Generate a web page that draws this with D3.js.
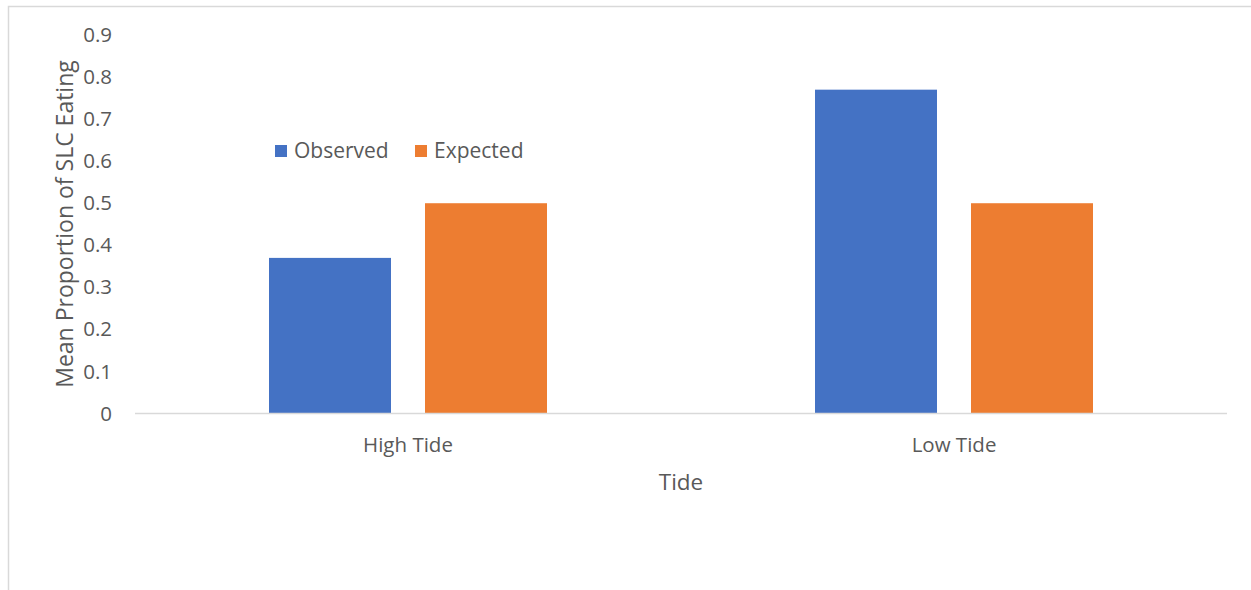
<!DOCTYPE html>
<html>
<head>
<meta charset="utf-8">
<script src="https://cdn.jsdelivr.net/npm/d3@7"></script>
<style>
  html, body { margin: 0; padding: 0; background: #fff; }
  svg { display: block; font-family: "Open Sans", sans-serif; }
</style>
</head>
<body>
<script>
// Mean proportion of SLC eating by tide, observed vs expected
const categories = ["High Tide", "Low Tide"];
const seriesNames = ["Observed", "Expected"];
const observed = [0.37, 0.77];
const expected = [0.5, 0.5];
const yTicks = [0, 0.1, 0.2, 0.3, 0.4, 0.5, 0.6, 0.7, 0.8, 0.9];
const colors = ["#4472C4", "#ED7D31"];

const W = 1251, H = 590;
const svg = d3.select("body").append("svg").attr("width", W).attr("height", H);

// chart frame
svg.append("path")
  .attr("d", `M8.5,${H} V6.5 H${W}`)
  .attr("fill", "none").attr("stroke", "#d9d9d9").attr("stroke-width", 1.5);

const plot = { left: 135, right: 1227, top: 35, bottom: 413.5 };

const x0 = d3.scaleBand().domain(categories).range([plot.left, plot.right]);
const y = d3.scaleLinear().domain([0, 0.9]).range([plot.bottom, plot.top]);

const barW = 122, gap = 34;
const x1 = d3.scaleOrdinal().domain(seriesNames)
  .range([-(barW + gap / 2), gap / 2]);

const values = [observed, expected];
const rows = [];
seriesNames.forEach((s, si) => categories.forEach((c, ci) =>
  rows.push({ s, c, v: values[si][ci], color: colors[si] })));

svg.append("g").selectAll("rect").data(rows).join("rect")
  .attr("x", d => x0(d.c) + x0.bandwidth() / 2 + x1(d.s))
  .attr("width", barW)
  .attr("y", d => y(d.v))
  .attr("height", d => y(0) - y(d.v))
  .attr("fill", d => d.color);

// baseline
svg.append("line")
  .attr("x1", plot.left).attr("x2", plot.right)
  .attr("y1", y(0)).attr("y2", y(0))
  .attr("stroke", "#d9d9d9").attr("stroke-width", 1.5);

// y axis labels
const yAxis = d3.axisLeft(y).tickValues(yTicks).tickSize(0).tickPadding(0)
  .tickFormat(d => d3.format("")(+d.toFixed(1)));
const yg = svg.append("g").attr("transform", `translate(112,0)`).call(yAxis);
yg.select(".domain").remove();
yg.selectAll("text").attr("fill", "#595959").style("font-size", "20.5px")
  .style("font-family", "'Open Sans', sans-serif");

// x axis labels
const xAxis = d3.axisBottom(x0).tickSize(0).tickPadding(0);
const xg = svg.append("g").attr("transform", `translate(0,${plot.bottom + 24})`).call(xAxis);
xg.select(".domain").remove();
xg.selectAll("text").attr("fill", "#595959").style("font-size", "20.5px")
  .style("font-family", "'Open Sans', sans-serif");

// axis titles
svg.append("text")
  .attr("x", (plot.left + plot.right) / 2).attr("y", 490)
  .attr("text-anchor", "middle").attr("fill", "#595959")
  .style("font-size", "22.5px").text("Tide");

svg.append("text")
  .attr("transform", `translate(72.5,224) rotate(-90)`)
  .attr("text-anchor", "middle").attr("fill", "#595959")
  .style("font-size", "23px").text("Mean Proportion of SLC Eating");

// legend
const legend = svg.append("g").attr("transform", "translate(275,151)");
const legendX = [0, 140];
seriesNames.forEach((s, i) => {
  const g = legend.append("g").attr("transform", `translate(${legendX[i]},0)`);
  g.append("rect").attr("x", 0).attr("y", -6).attr("width", 12).attr("height", 12)
    .attr("fill", colors[i]);
  g.append("text").attr("x", 19).attr("y", 0).attr("dy", "0.35em")
    .attr("fill", "#595959").style("font-size", "21px").text(s);
});
</script>
</body>
</html>
